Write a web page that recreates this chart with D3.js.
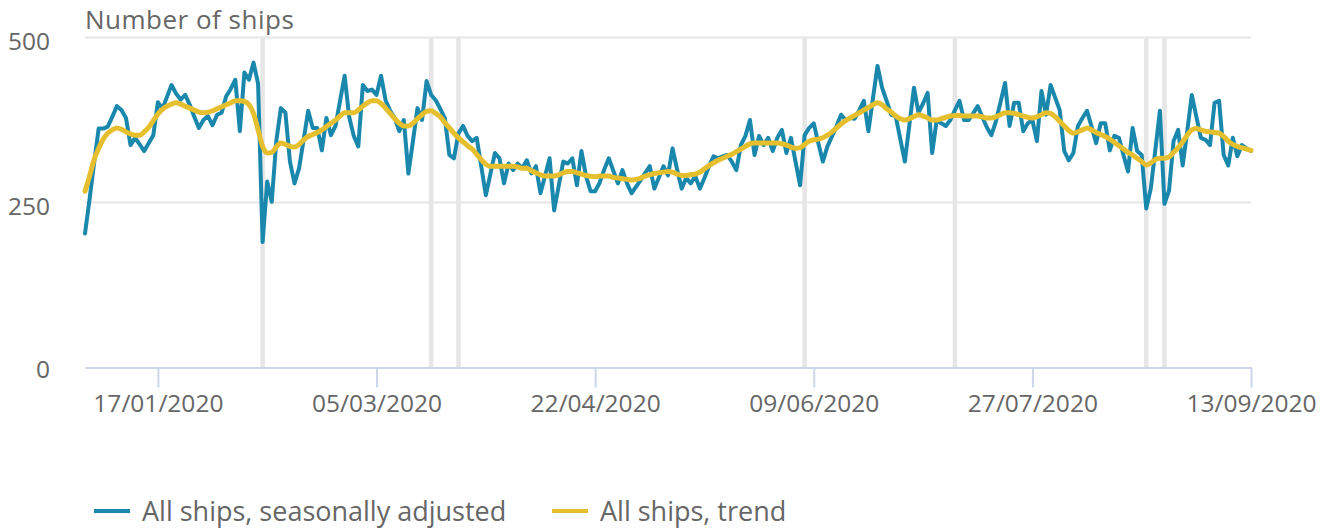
<!DOCTYPE html>
<html>
<head>
<meta charset="utf-8">
<script src="https://cdn.jsdelivr.net/npm/d3@7"></script>
<style>
  body { margin: 0; background: #fff; }
  text { font-family: "Open Sans", sans-serif; fill: #666; }
</style>
</head>
<body>
<div class="chart"></div>
<script>
// Data
const startDate = '01/01/2020'
const seasonallyAdjusted = [
  203, 255, 310, 362, 362, 365, 380, 396, 390, 378, 337, 348, 338, 328, 340, 352, 402, 392, 410, 428,
  415, 406, 413, 398, 380, 363, 375, 381, 367, 383, 386, 411, 422, 436, 358, 447, 436, 462, 430, 190,
  282, 251, 343, 393, 386, 312, 279, 302, 345, 389, 363, 363, 329, 378, 352, 366, 404, 442, 380, 351,
  335, 428, 419, 421, 413, 442, 405, 389, 378, 358, 375, 294, 343, 393, 375, 434, 413, 405, 392, 378,
  322, 317, 355, 366, 351, 343, 348, 305, 261, 293, 325, 317, 279, 309, 299, 309, 302, 314, 294, 305,
  264, 290, 317, 238, 275, 312, 309, 317, 276, 328, 290, 267, 267, 280, 300, 317, 298, 279, 299, 279,
  264, 274, 284, 295, 305, 271, 288, 305, 291, 332, 300, 271, 287, 279, 290, 271, 287, 305, 320, 317,
  320, 322, 312, 299, 337, 351, 375, 322, 351, 337, 348, 328, 348, 360, 325, 348, 312, 276, 352, 363,
  370, 340, 312, 335, 350, 366, 383, 375, 378, 377, 390, 404, 358, 408, 457, 424, 404, 383, 381, 346,
  312, 368, 424, 386, 400, 416, 325, 375, 370, 366, 375, 390, 404, 375, 375, 385, 396, 380, 364, 352,
  373, 402, 431, 366, 401, 401, 358, 370, 375, 343, 419, 383, 428, 409, 390, 328, 314, 325, 366, 378,
  389, 365, 340, 370, 370, 329, 351, 348, 322, 297, 363, 328, 322, 241, 271, 330, 389, 248, 268, 343,
  360, 306, 358, 413, 380, 348, 345, 337, 401, 404, 322, 306, 348, 320, 337, 332, 328
]
const trend = [
  267, 290, 315, 332, 346, 355, 360, 363, 361, 357, 354, 352, 352, 357, 364, 374, 384, 391, 396, 399,
  401, 399, 396, 393, 390, 387, 386, 387, 389, 392, 395, 398, 401, 404, 404, 403, 398, 385, 360, 335,
  325, 326, 334, 340, 338, 335, 334, 338, 345, 350, 353, 356, 360, 365, 370, 375, 381, 386, 386, 386,
  390, 396, 401, 404, 404, 400, 393, 385, 377, 370, 366, 366, 370, 377, 383, 388, 389, 385, 380, 371,
  363, 355, 348, 342, 336, 331, 323, 315, 308, 305, 305, 305, 305, 305, 305, 304, 302, 302, 298, 295,
  292, 290, 290, 290, 292, 295, 297, 297, 295, 293, 291, 290, 289, 290, 290, 290, 288, 287, 286, 285,
  284, 285, 287, 290, 292, 294, 295, 296, 297, 296, 293, 291, 291, 292, 293, 296, 301, 306, 310, 314,
  317, 320, 323, 327, 331, 335, 339, 340, 340, 340, 340, 340, 340, 339, 337, 334, 332, 333, 338, 343,
  345, 346, 348, 352, 357, 363, 369, 374, 378, 382, 386, 390, 394, 398, 401, 398, 392, 387, 381, 377,
  375, 377, 380, 383, 381, 378, 375, 375, 377, 379, 381, 382, 382, 381, 381, 381, 381, 380, 378, 378,
  380, 383, 386, 386, 385, 383, 381, 379, 378, 380, 383, 386, 385, 380, 373, 366, 359, 355, 357, 360,
  363, 360, 356, 353, 350, 346, 341, 336, 331, 326, 322, 317, 312, 307, 310, 315, 317, 317, 319, 326,
  333, 342, 352, 360, 362, 360, 358, 357, 356, 355, 350, 343, 338, 335, 333, 331, 329
]
const markedDays = ['09/02/2020', '17/03/2020', '23/03/2020', '07/06/2020', '10/07/2020', '21/08/2020', '25/08/2020']
const xTickLabels = ['17/01/2020', '05/03/2020', '22/04/2020', '09/06/2020', '27/07/2020', '13/09/2020']
const yTickValues = [0, 250, 500]
const seriesNames = ['All ships, seasonally adjusted', 'All ships, trend']
const seriesColors = ['#1a87ad', '#e5bf2e']

// Dimensions
const dimensions = {
  width: 1325,
  height: 530,
  left: 85,
  right: 1251,
  top: 37.5,
  bottom: 367.5
}

const parse = d3.utcParse('%d/%m/%Y')
const fmt = d3.utcFormat('%d/%m/%Y')
const day0 = parse(startDate)
const dates = seasonallyAdjusted.map((d, i) => d3.utcDay.offset(day0, i))

const svg = d3.select('.chart')
  .append('svg')
  .attr('width', dimensions.width)
  .attr('height', dimensions.height)

const xScale = d3.scaleUtc()
  .domain([dates[0], dates[dates.length - 1]])
  .range([dimensions.left, dimensions.right])

const yScale = d3.scaleLinear()
  .domain([0, 500])
  .range([dimensions.bottom, dimensions.top])

// Grid lines
svg.append('g')
  .selectAll('line')
  .data(yTickValues.filter(d => d > 0))
  .join('line')
  .attr('x1', dimensions.left)
  .attr('x2', dimensions.right)
  .attr('y1', d => yScale(d))
  .attr('y2', d => yScale(d))
  .attr('stroke', '#e6e6e6')
  .attr('stroke-width', 2)

// Marked days (grey bands one day wide)
svg.append('g')
  .selectAll('rect')
  .data(markedDays.map(parse))
  .join('rect')
  .attr('x', d => xScale(d3.utcHour.offset(d, -12)))
  .attr('width', d => xScale(d3.utcHour.offset(d, 12)) - xScale(d3.utcHour.offset(d, -12)))
  .attr('y', dimensions.top)
  .attr('height', dimensions.bottom - dimensions.top)
  .attr('fill', '#e6e6e6')

// Y labels
svg.append('g')
  .selectAll('text')
  .data(yTickValues)
  .join('text')
  .attr('x', 50)
  .attr('y', d => yScale(d) + (d === 0 ? 10.5 : 12.5))
  .attr('text-anchor', 'end')
  .style('font-size', '24.5px')
  .text(d => d)

// X axis
const xAxis = d3.axisBottom(xScale)
  .tickValues(xTickLabels.map(parse))
  .tickFormat(fmt)
  .tickSize(20)
  .tickSizeOuter(0)
  .tickPadding(5)

const xAxisGroup = svg.append('g')
  .attr('transform', `translate(0, ${dimensions.bottom})`)
  .call(xAxis)

xAxisGroup.select('.domain')
  .attr('stroke', '#ccd6eb')
  .attr('stroke-width', 2)
xAxisGroup.selectAll('.tick line')
  .attr('stroke', '#ccd6eb')
  .attr('stroke-width', 2)
xAxisGroup.selectAll('.tick text')
  .attr('fill', '#666')
  .attr('dy', null)
  .attr('y', 44)
  .style('font-size', '24.5px')
  .style('font-family', '"Open Sans", sans-serif')

// Lines
const line = d3.line()
  .x((d, i) => xScale(dates[i]))
  .y(d => yScale(d))

svg.append('path')
  .datum(seasonallyAdjusted)
  .attr('d', line)
  .attr('fill', 'none')
  .attr('stroke', seriesColors[0])
  .attr('stroke-width', 4)
  .attr('stroke-linejoin', 'round')
  .attr('stroke-linecap', 'round')

svg.append('path')
  .datum(trend)
  .attr('d', line.curve(d3.curveMonotoneX))
  .attr('fill', 'none')
  .attr('stroke', seriesColors[1])
  .attr('stroke-width', 5)
  .attr('stroke-linejoin', 'round')
  .attr('stroke-linecap', 'round')

// Title
svg.append('text')
  .attr('x', 85)
  .attr('y', 29)
  .style('font-size', '26px')
  .style('letter-spacing', '0.5px')
  .text('Number of ships')

// Legend
const legendX = [94, 552]
const legend = svg.append('g')
  .selectAll('g')
  .data(seriesNames)
  .join('g')
  .attr('transform', (d, i) => `translate(${legendX[i]}, 511)`)

legend.append('line')
  .attr('x1', 0)
  .attr('x2', 36)
  .attr('stroke', (d, i) => seriesColors[i])
  .attr('stroke-width', 4)

legend.append('text')
  .attr('x', 48)
  .attr('y', 10)
  .style('font-size', '27px')
  .text(d => d)
</script>
</body>
</html>
